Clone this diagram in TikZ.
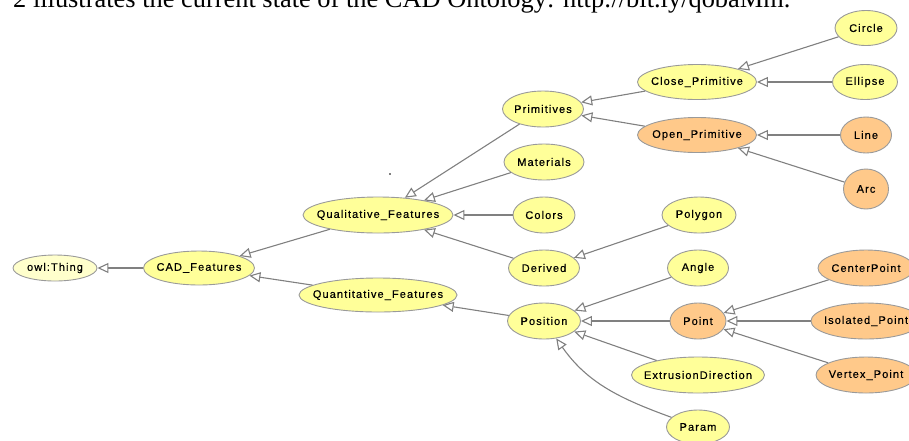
\documentclass[tikz,border=0pt]{standalone}
\usepackage{fontspec}
\setmainfont{Liberation Serif}
\newfontfamily\graffont[LetterSpace=10, FakeBold=0.4]{Liberation Sans}
\usetikzlibrary{shapes.geometric,arrows.meta}

\definecolor{clsyellow}{HTML}{FFFF99}
\definecolor{thingyellow}{HTML}{FFFFCC}
\definecolor{clsorange}{HTML}{FFC98A}
\definecolor{clsborder}{HTML}{9A9A9A}
\definecolor{edgegray}{HTML}{808080}

\tikzset{
  cls/.style={ellipse, draw=clsborder, fill=clsyellow, line width=0.9pt, inner sep=0pt,
    font=\graffont\fontsize{11}{13}\selectfont,
    execute at begin node={\hbox to 0pt\bgroup\hss},
    execute at end node={\hss\egroup}},
  defcls/.style={cls, fill=clsorange},
  isa/.style={draw=edgegray, line width=1.1pt,
    -{Triangle[open, length=11pt, width=10pt, fill=white]}},
}

\begin{document}
\begin{tikzpicture}[x=1pt, y=-1pt]
    \useasboundingbox (0,0) rectangle (909,440);
    \clip (0,0) rectangle (909,440);

    % Cropped text line above the graph
    \node[anchor=base west, inner sep=0pt, font=\fontsize{26.4}{30}\selectfont] (caption) at (13,7)
        {2 illustrates the current state of the CAD Ontology: http://bit.ly/qobaMm.};
    \fill[gray] (389,173) rectangle (391,175);

    % Classes
    \node[cls, fill=thingyellow, minimum width=84pt, minimum height=26pt] (thing) at (55,268) {owl:Thing};
    \node[cls, minimum width=111pt, minimum height=34pt] (cad) at (199,268) {CAD\_Features};
    \node[cls, minimum width=150pt, minimum height=36pt] (qual) at (378,215) {Qualitative\_Features};
    \node[cls, minimum width=158pt, minimum height=34pt] (quant) at (378,295) {Quantitative\_Features};

    \node[cls, minimum width=81pt, minimum height=36pt] (prim) at (543,109) {Primitives};
    \node[cls, minimum width=80pt, minimum height=36pt] (mat) at (544,162) {Materials};
    \node[cls, minimum width=62pt, minimum height=36pt] (colors) at (544,215) {Colors};
    \node[cls, minimum width=71pt, minimum height=36pt] (derived) at (544,268) {Derived};
    \node[cls, minimum width=73pt, minimum height=36pt] (position) at (544,321) {Position};

    \node[cls, minimum width=119pt, minimum height=35pt] (close) at (697,82) {Close\_Primitive};
    \node[defcls, minimum width=119pt, minimum height=35pt] (open) at (697,135) {Open\_Primitive};
    \node[cls, minimum width=74pt, minimum height=36pt] (polygon) at (699,215) {Polygon};
    \node[cls, minimum width=61pt, minimum height=36pt] (angle) at (698,268) {Angle};
    \node[defcls, minimum width=56pt, minimum height=36pt] (point) at (698,321) {Point};
    \node[cls, minimum width=133pt, minimum height=36pt] (extr) at (698,375) {ExtrusionDirection};
    \node[cls, minimum width=63pt, minimum height=34pt] (param) at (698,427) {Param};

    \node[cls, minimum width=62pt, minimum height=35pt] (circle) at (866,28) {Circle};
    \node[cls, minimum width=65pt, minimum height=35pt] (ellipse) at (865,82) {Ellipse};
    \node[defcls, minimum width=51pt, minimum height=36pt] (line) at (866,135) {Line};
    \node[defcls, minimum width=45pt, minimum height=40pt] (arc) at (866,189) {Arc};
    \node[defcls, minimum width=96pt, minimum height=36pt] (center) at (866,268) {CenterPoint};
    \node[defcls, minimum width=110pt, minimum height=36pt] (isolated) at (866,321) {Isolated\_Point};
    \node[defcls, minimum width=100pt, minimum height=36pt] (vertex) at (866,375) {Vertex\_Point};

    % Subclass links
    \foreach \sub/\super in {cad/thing, qual/cad, quant/cad, prim/qual, mat/qual, colors/qual,
        derived/qual, position/quant, close/prim, open/prim, circle/close, ellipse/close,
        line/open, arc/open, polygon/derived, angle/position, point/position, extr/position,
        center/point, isolated/point, vertex/point} {
        \draw[isa] (\sub) -- (\super);
    }
    \draw[isa] (param) to[out=160, in=-55] (position);
\end{tikzpicture}
\end{document}
